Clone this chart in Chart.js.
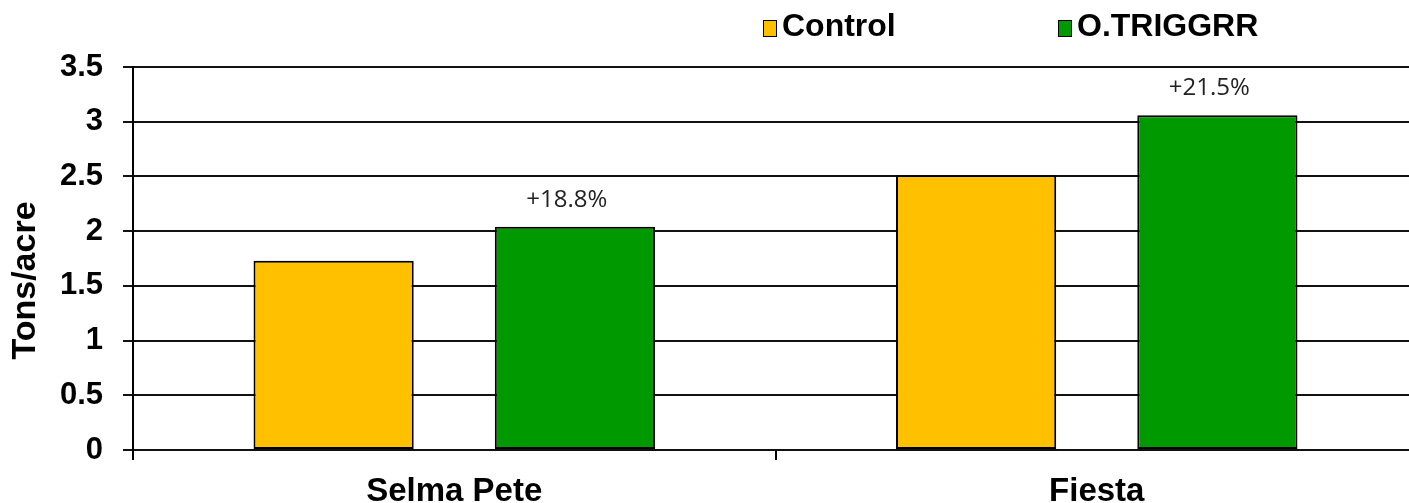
<!DOCTYPE html>
<html>
<head>
<meta charset="utf-8">
<script src="https://cdn.jsdelivr.net/npm/chart.js@4"></script>
<style>
  html, body { margin: 0; padding: 0; background: #fff; overflow: hidden; }
  #wrap { position: relative; width: 1420px; height: 512px; }
  #legend { position: absolute; top: 0; left: 0; font: bold 32px "Liberation Sans", Arial, sans-serif; color: #000; }
  .item { position: absolute; top: 7px; white-space: nowrap; line-height: 36px; }
  .box { display: inline-block; width: 12px; height: 15px; border: 1.5px solid #000; vertical-align: -1px; margin-right: 5px; }
</style>
</head>
<body>
<div id="wrap">
  <canvas id="chart" width="1420" height="512"></canvas>
  <div id="legend"></div>
</div>
<script>
let varieties = ['Selma Pete', 'Fiesta']
let seriesNames = ['Control', 'O.TRIGGRR']
let control = [1.73, 2.51]
let triggrr = [2.04, 3.06]
let gainLabels = ['+18.8%', '+21.5%']
let yTicks = [0, 0.5, 1, 1.5, 2, 2.5, 3, 3.5]
let yTitle = 'Tons/acre'
let colors = ['#FFC000', '#009900']

// percent gain written above the O.TRIGGRR bars
const gainPlugin = {
    id: 'gain',
    afterDatasetsDraw(chart) {
        const ctx = chart.ctx
        const meta = chart.getDatasetMeta(1)
        ctx.save()
        ctx.font = '24px "Open Sans", sans-serif'
        ctx.fillStyle = '#222'
        ctx.textAlign = 'center'
        ctx.textBaseline = 'middle'
        meta.data.forEach((bar, i) => {
            ctx.fillText(gainLabels[i], bar.x - 8, bar.y - 27)
        })
        ctx.restore()
    }
}

// y title sits a bit lower than the middle of the plot in the original
const yTitlePlugin = {
    id: 'yTitle',
    afterDraw(chart) {
        const ctx = chart.ctx
        const area = chart.chartArea
        ctx.save()
        ctx.translate(26, (area.top + area.bottom) / 2 + 22)
        ctx.rotate(-Math.PI / 2)
        ctx.font = 'bold 34px "Liberation Sans", Arial, sans-serif'
        ctx.fillStyle = '#000'
        ctx.textAlign = 'center'
        ctx.textBaseline = 'middle'
        ctx.fillText(yTitle, 0, 0)
        ctx.restore()
    }
}

// legend as html, left positions match the original picture
const legendLeft = [763, 1058]
document.getElementById('legend').innerHTML = seriesNames.map((name, i) =>
    `<div class="item" style="left:${legendLeft[i]}px"><span class="box" style="background:${colors[i]}"></span>${name}</div>`
).join('')

new Chart(document.getElementById('chart'), {
    type: 'bar',
    data: {
        labels: varieties,
        datasets: [
            { label: seriesNames[0], data: control, backgroundColor: colors[0], borderColor: '#000', borderWidth: 2, borderSkipped: false },
            { label: seriesNames[1], data: triggrr, backgroundColor: colors[1], borderColor: '#000', borderWidth: 2, borderSkipped: false }
        ]
    },
    options: {
        responsive: false,
        animation: false,
        events: [],
        categoryPercentage: 0.751,
        barPercentage: 0.664,
        layout: { padding: { top: 67, left: 0, right: 2, bottom: 0 } },
        plugins: {
            legend: { display: false },
            tooltip: { enabled: false }
        },
        scales: {
            x: {
                afterFit: axis => { axis.height = 62 },
                grid: { display: true, drawOnChartArea: false, drawTicks: true, tickLength: 10, color: '#000', lineWidth: 2 },
                border: { display: false },
                ticks: { color: '#000', padding: 12, font: { family: '"Liberation Sans", Arial, sans-serif', size: 33, weight: 'bold' } }
            },
            y: {
                min: 0,
                max: 3.5,
                afterFit: axis => { axis.width = 133 },
                afterBuildTicks: axis => { axis.ticks = yTicks.map(v => ({ value: v })) },
                grid: { color: '#111', lineWidth: 2, tickLength: 10 },
                border: { color: '#000', width: 2 },
                ticks: {
                    color: '#000',
                    padding: 20,
                    callback: v => String(v),
                    font: { family: '"Liberation Sans", Arial, sans-serif', size: 31, weight: 'bold' }
                }
            }
        }
    },
    plugins: [gainPlugin, yTitlePlugin]
})
</script>
</body>
</html>
